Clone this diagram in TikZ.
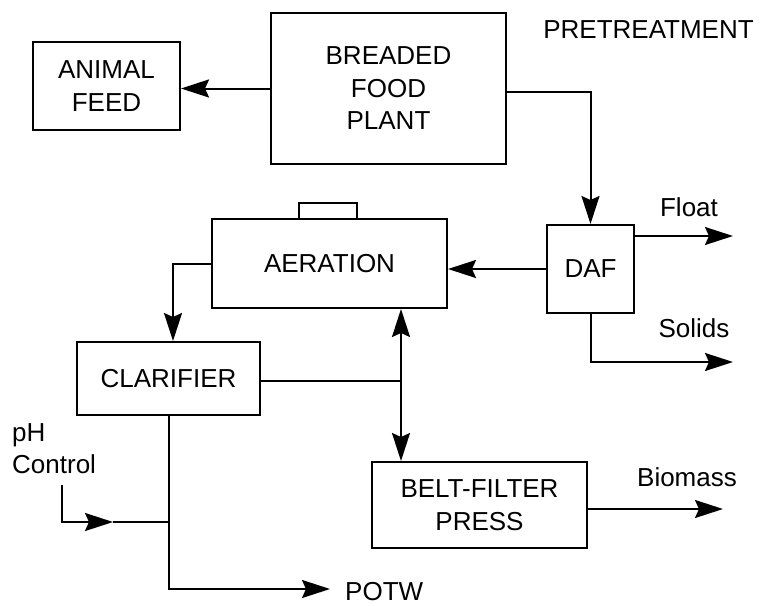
\documentclass[tikz,border=0pt]{standalone}
\usepackage{fontspec}
\setmainfont{Liberation Sans}
\usetikzlibrary{arrows.meta}
\begin{document}
\begin{tikzpicture}[x=1pt,y=-1pt,
  box/.style={draw, line width=2pt, inner sep=0pt, align=center, font=\fontsize{26}{32.5}\selectfont},
  lbl/.style={inner sep=0pt, align=left, font=\fontsize{26}{32}\selectfont},
  flow/.style={line width=2pt, -{Stealth[length=28pt,width=18pt,inset=4pt]}},
  biflow/.style={line width=2pt, {Stealth[length=28pt,width=18pt,inset=4pt]}-{Stealth[length=28pt,width=18pt,inset=4pt]}},
  plain/.style={line width=2pt}]
\useasboundingbox (0,0) rectangle (760,605);
% boxes
\node[box, minimum width=147pt, minimum height=88pt] (feed) at (106.5,86) {ANIMAL\\FEED};
\node[box, minimum width=235pt, minimum height=151pt] (plant) at (388.5,88.5) {BREADED\\FOOD\\PLANT};
\node[box, minimum width=87pt, minimum height=88pt] (daf) at (590.5,269) {DAF};
\node[box, minimum width=235pt, minimum height=89pt] (aer) at (329.5,263.5) {AERATION};
\node[box, minimum width=58pt, minimum height=16pt] (blower) at (328,211) {};
\node[box, minimum width=183pt, minimum height=73pt] (clar) at (168.5,378.5) {CLARIFIER};
\node[box, minimum width=215pt, minimum height=86pt] (belt) at (479.5,505) {BELT-FILTER\\PRESS};
% labels
\node[lbl] (pre) at (648.5,30) {PRETREATMENT};
\node[lbl] (float) at (689,207) {Float};
\node[lbl] (solids) at (694,328) {Solids};
\node[lbl] (biomass) at (687,477) {Biomass};
\node[lbl, anchor=west] (potw) at (345,592) {POTW};
\node[lbl, anchor=west] (ph) at (12,449) {pH\\Control};
% free ends
\coordinate (floatend) at (733,236);
\coordinate (solidsend) at (733,362);
\coordinate (biomassend) at (723,509);
\coordinate (potwend) at (330,589);
\coordinate (j) at (401,381);
\coordinate (phstart) at (62,485);
\coordinate (phmid) at (113,522);
% connectors
\draw[flow] (plant.west) -- (plant.west -| feed.east);
\draw[flow] (plant.east |- 0,92) -| (daf.north);
\draw[flow] (daf.west) -- (daf.west -| aer.east);
\draw[flow] (daf.east |- floatend) -- (floatend);
\draw[flow] (daf.south) |- (solidsend);
\draw[flow] (aer.west) -| ([xshift=4.5pt]clar.north);
\draw[plain] (clar.east |- j) -- (j);
\draw[biflow] (aer.south -| j) -- (belt.north -| j);
\draw[flow] (belt.east |- biomassend) -- (biomassend);
\draw[flow] (clar.south) |- (potwend);
\draw[flow] (phstart) |- (phmid);
\draw[plain] (phmid) -- (phmid -| clar.south);
\end{tikzpicture}
\end{document}
